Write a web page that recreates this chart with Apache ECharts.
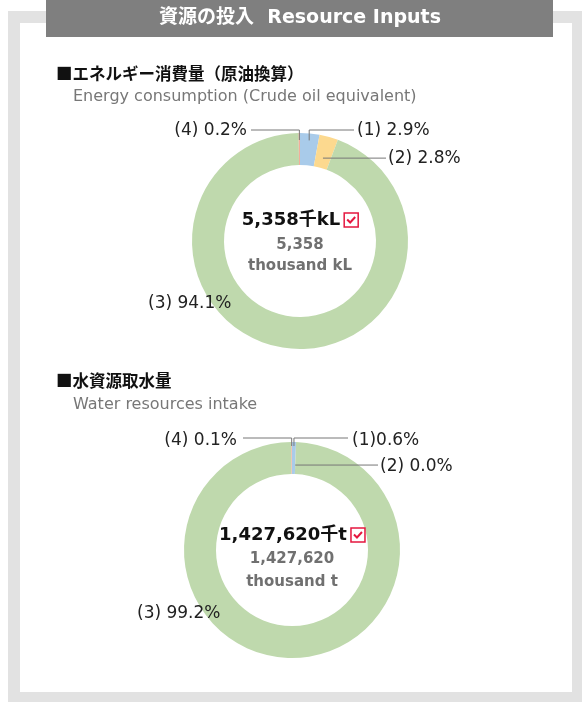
<!DOCTYPE html>
<html><head><meta charset="utf-8">
<script src="https://cdn.jsdelivr.net/npm/echarts@6/dist/echarts.min.js"></script>
<style>html,body{margin:0;padding:0;background:#fff}#c{width:582px;height:702px}</style>
</head><body><div id="c"></div>
<script>
// ---- data ----
const sliceNames = ['(1)', '(2)', '(3)', '(4)'];
const energyValues = [2.9, 2.8, 94.1, 0.2];
const waterValues = [0.6, 0.0, 99.2, 0.1];
const energySep = [' ', ' ', ' ', ' '];
const waterSep = ['', ' ', ' ', ' '];
const titleText = '資源の投入  Resource Inputs';
const energyHeading = '■エネルギー消費量（原油換算）';
const energySub = 'Energy consumption (Crude oil equivalent)';
const waterHeading = '■水資源取水量';
const waterSub = 'Water resources intake';
const energyCenter = ['5,358千kL', '5,358', 'thousand kL'];
const waterCenter = ['1,427,620千t', '1,427,620', 'thousand t'];

// ---- styles ----
const sliceColors = ['#A9CBEA', '#FCD98F', '#BFD9AD', '#F3AE9A'];
const LAT = '"DejaVu Sans","Noto Sans CJK JP",sans-serif';
const CJK = '"Noto Sans CJK JP","DejaVu Sans",sans-serif';
const lineColor = '#777777';

const chart = echarts.init(document.getElementById('c'), null, {renderer: 'canvas'});

const mctx = document.createElement('canvas').getContext('2d');
function textW(txt, font) { mctx.font = font; return mctx.measureText(txt).width; }

function makeLayout(cx, cy, place) {
  return function (params) {
    const p = place[params.dataIndex];
    const res = {x: p.x, y: p.y, align: p.align, verticalAlign: 'middle'};
    const pts = params.labelLinePoints;
    if (p.r && pts && pts.length) {
      const a = pts[0];
      const dx = a[0] - cx, dy = a[1] - cy, d = Math.hypot(dx, dy) || 1;
      const ax = cx + dx / d * p.r, ay = cy + dy / d * p.r;
      if (p.elbowY != null) res.labelLinePoints = [[ax, ay], [ax, p.elbowY], [p.endX, p.elbowY]];
      else res.labelLinePoints = [[ax, ay], [p.endX, ay]];
    }
    return res;
  };
}

// base ring (sectors only)
function ringSeries(values, cx, cy) {
  return {
    type: 'pie', z: 2,
    center: [cx, cy], radius: [76, 108],
    startAngle: 90, clockwise: true, silent: true,
    label: {show: false}, labelLine: {show: false},
    data: values.map((v, i) => ({name: sliceNames[i], value: v, itemStyle: {color: sliceColors[i]}}))
  };
}
// overlay (transparent sectors) carrying labels and leader lines above the ring
function labelSeries(values, sep, cx, cy, place) {
  return {
    type: 'pie', z: 5,
    center: [cx, cy], radius: [76, 108],
    startAngle: 90, clockwise: true, silent: true,
    avoidLabelOverlap: false,
    itemStyle: {color: 'rgba(0,0,0,0)'},
    label: {
      show: true, position: 'outside',
      fontFamily: LAT, fontSize: 17, color: '#222',
      formatter: (p) => p.name + sep[p.dataIndex] + values[p.dataIndex].toFixed(1) + '%'
    },
    labelLine: {show: true, length: 6, length2: 6, lineStyle: {color: lineColor, width: 1}},
    labelLayout: makeLayout(cx, cy, place),
    data: values.map((v, i) => ({
      name: sliceNames[i], value: v,
      labelLine: {show: i !== 2}
    }))
  };
}

const e = {cx: 300, cy: 241};
const w = {cx: 292, cy: 550};

const energyPlace = [
  {x: 357, y: 131, align: 'left', r: 101, elbowY: 130, endX: 354},
  {x: 388, y: 159, align: 'left', r: 86, endX: 386},
  {x: 148, y: 304, align: 'left'},
  {x: 247, y: 131, align: 'right', r: 101, elbowY: 130, endX: 251}
];
const waterPlace = [
  {x: 352, y: 441, align: 'left', r: 104, elbowY: 438, endX: 348},
  {x: 380, y: 467, align: 'left', r: 85, endX: 378},
  {x: 137, y: 614, align: 'left'},
  {x: 237, y: 441, align: 'right', r: 104, elbowY: 438, endX: 243}
];

function centerGraphics(cx, ys, lines) {
  const f1 = 'bold 18px ' + LAT;
  const w1 = textW(lines[0], f1);
  const box = 14, gap = 4;
  const total = w1 + gap + box;
  const left = cx - total / 2;
  const bx = left + w1 + gap, by = ys[0] - box / 2;
  return [
    {type: 'text', z: 10, style: {text: lines[0], x: left, y: ys[0], font: f1, fill: '#111', textAlign: 'left', textVerticalAlign: 'middle'}},
    {type: 'rect', z: 10, shape: {x: bx, y: by, width: box, height: box}, style: {fill: '#fff', stroke: '#E5173F', lineWidth: 1.5}},
    {type: 'polyline', z: 11, shape: {points: [[bx + 3, by + 6.5], [bx + 6, by + 9.5], [bx + 11, by + 4]]}, style: {stroke: '#E5173F', lineWidth: 2, fill: null}},
    {type: 'text', z: 10, style: {text: lines[1], x: cx, y: ys[1], font: 'bold 15px ' + LAT, fill: '#707070', textAlign: 'center', textVerticalAlign: 'middle'}},
    {type: 'text', z: 10, style: {text: lines[2], x: cx, y: ys[2], font: 'bold 15px ' + LAT, fill: '#707070', textAlign: 'center', textVerticalAlign: 'middle'}}
  ];
}

const graphics = [
  {type: 'rect', z: -10, shape: {x: 8, y: 11, width: 574, height: 691}, style: {fill: '#E2E2E2'}},
  {type: 'rect', z: -9, shape: {x: 20, y: 23, width: 552, height: 669}, style: {fill: '#FFFFFF'}},
  {type: 'rect', z: -8, shape: {x: 46, y: 0, width: 507, height: 37}, style: {fill: '#7F7F7F'}},
  {type: 'text', z: 10, style: {text: titleText, x: 300, y: 18, font: 'bold 19px ' + LAT, fill: '#fff', textAlign: 'center', textVerticalAlign: 'middle'}},
  {type: 'text', z: 10, style: {text: energyHeading, x: 56, y: 74, font: 'bold 16.5px ' + CJK, fill: '#111', textAlign: 'left', textVerticalAlign: 'middle'}},
  {type: 'text', z: 10, style: {text: energySub, x: 73, y: 97, font: '16px ' + LAT, fill: '#777', textAlign: 'left', textVerticalAlign: 'middle'}},
  {type: 'text', z: 10, style: {text: waterHeading, x: 56, y: 381, font: 'bold 16.5px ' + CJK, fill: '#111', textAlign: 'left', textVerticalAlign: 'middle'}},
  {type: 'text', z: 10, style: {text: waterSub, x: 73, y: 405, font: '16px ' + LAT, fill: '#777', textAlign: 'left', textVerticalAlign: 'middle'}}
].concat(centerGraphics(e.cx, [220, 245, 266], energyCenter))
 .concat(centerGraphics(w.cx, [535, 559, 582], waterCenter));

chart.setOption({
  animation: false,
  graphic: {elements: graphics},
  series: [
    ringSeries(energyValues, e.cx, e.cy),
    ringSeries(waterValues, w.cx, w.cy),
    labelSeries(energyValues, energySep, e.cx, e.cy, energyPlace),
    labelSeries(waterValues, waterSep, w.cx, w.cy, waterPlace)
  ]
});
</script></body></html>
